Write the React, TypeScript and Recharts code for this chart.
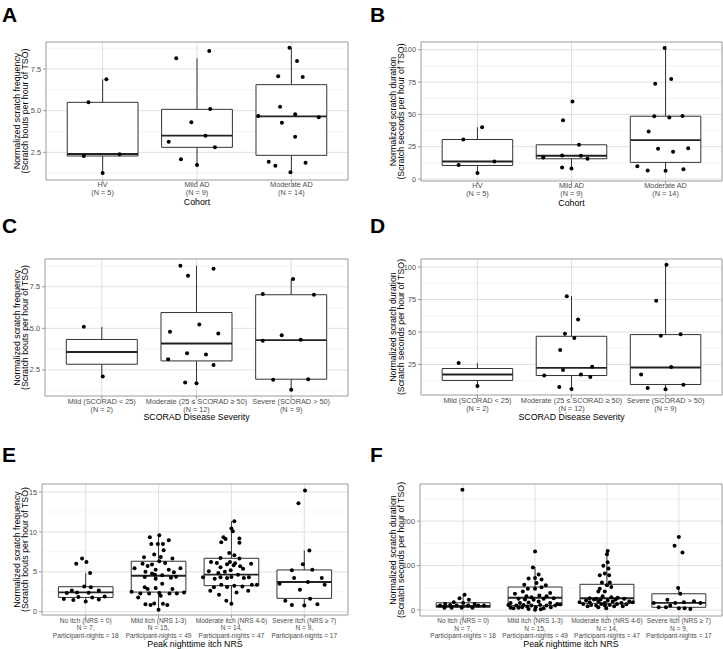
import { ComposedChart, XAxis, YAxis, CartesianGrid, Scatter, ReferenceArea, ReferenceLine, Label } from 'recharts';

const FONT = '"Liberation Sans", Arial, Helvetica, sans-serif';

// each point is [value, horizontal jitter in category units]
type Pt = [number, number];

// ---- A: scratch frequency by cohort
const aHV: Pt[] = [[6.88, 0.04], [5.5, -0.15], [2.28, -0.2], [2.38, 0.18], [1.26, 0]];
const aMild: Pt[] = [[8.14, -0.22], [8.58, 0.13], [5.1, 0.14], [4.3, -0.06], [3.5, 0.09], [3.14, -0.3], [2.8, 0.19], [2.08, -0.17], [1.74, 0]];
const aModerate: Pt[] = [[8.78, -0.02], [7.98, 0.06], [7.06, -0.14], [7.02, 0.12], [5.24, -0.12], [4.68, -0.35], [4.78, 0.04], [4.28, -0.1], [4.6, 0.29], [3.44, 0.04], [1.94, -0.24], [1.7, -0.17], [1.88, 0.15], [1.3, -0.01]];
const aLower = [1.26, 1.74, 1.3];
const aQ1 = [2.28, 2.8, 2.32];
const aMedian = [2.4, 3.5, 4.66];
const aQ3 = [5.5, 5.08, 6.56];
const aUpper = [6.88, 8.14, 8.78];

// ---- B: scratch duration by cohort
const bHV: Pt[] = [[40.1, 0.05], [30.6, -0.15], [10.8, -0.2], [13.6, 0.18], [4.6, 0]];
const bMild: Pt[] = [[45.5, -0.09], [59.9, 0.01], [26.5, 0.08], [18.3, -0.1], [18.0, 0.1], [16.7, -0.3], [15.7, 0.17], [9.0, -0.1], [8.2, 0]];
const bModerate: Pt[] = [[101.3, -0.01], [73.8, -0.11], [77.4, 0.06], [48.6, -0.12], [47.6, 0.04], [48.8, 0.18], [36.8, -0.18], [23.4, -0.08], [21.1, 0.08], [23.9, 0.24], [10.0, -0.3], [6.7, -0.19], [6.4, 0], [7.5, 0.19]];
const bLower = [4.6, 8.2, 6.4];
const bQ1 = [10.5, 15.7, 12.9];
const bMedian = [13.6, 18.0, 30.1];
const bQ3 = [30.6, 26.5, 48.6];
const bUpper = [40.1, 26.5, 101.3];

// ---- C: scratch frequency by SCORAD
const cMild: Pt[] = [[5.09, -0.19], [2.1, 0.01]];
const cModerate: Pt[] = [[8.77, -0.17], [8.16, -0.09], [8.58, 0.18], [5.23, 0.03], [4.79, -0.28], [4.69, 0.23], [3.5, -0.1], [3.42, 0.1], [3.14, -0.3], [2.8, 0.18], [1.74, -0.12], [1.7, 0]];
const cSevere: Pt[] = [[7.96, 0.02], [7.06, -0.3], [7.02, 0.24], [4.59, -0.1], [4.25, -0.3], [4.31, 0.1], [1.9, -0.19], [1.94, 0.18], [1.3, 0]];
const cLower = [2.1, 1.7, 1.3];
const cQ1 = [2.84, 3.04, 1.94];
const cMedian = [3.58, 4.09, 4.29];
const cQ3 = [4.33, 5.95, 7.02];
const cUpper = [5.09, 8.77, 7.96];

// ---- D: scratch duration by SCORAD
const dMild: Pt[] = [[26.2, -0.2], [8.4, 0]];
const dModerate: Pt[] = [[77.6, -0.05], [59.7, 0.07], [48.7, -0.07], [45.4, 0.03], [36.2, -0.12], [20.7, -0.09], [16.6, -0.29], [17.3, 0.1], [23.2, 0.22], [15.3, 0.2], [7.7, -0.13], [6.1, 0]];
const dSevere: Pt[] = [[101.8, 0.01], [74.0, -0.1], [47.2, -0.05], [48.2, 0.16], [17.3, -0.26], [23.0, 0.06], [6.9, -0.19], [5.9, 0], [9.4, 0.19]];
const dLower = [8.4, 6.1, 5.9];
const dQ1 = [12.7, 16.5, 9.6];
const dMedian = [17.3, 22.4, 22.7];
const dQ3 = [21.9, 46.7, 48.0];
const dUpper = [26.2, 77.6, 101.8];

// ---- E: scratch frequency by peak itch NRS
const eNone: Pt[] = [[6.66, -0.05], [6.03, -0.13], [6.24, 0.01], [4.86, 0.06], [3.18, -0.02], [3.06, 0.07], [2.68, -0.19], [2.35, -0.26], [2.43, -0.12], [2.68, 0.18], [2.39, 0.04], [1.59, -0.3], [1.47, -0.17], [1.84, -0.1], [1.3, 0], [1.8, 0.09], [1.55, 0.18], [1.93, 0.26]];
const eMild: Pt[] = [[9.59, 0.01], [9.34, -0.12], [8.5, -0.1], [8.5, -0.01], [8.5, 0.06], [8.97, 0.14], [7.71, 0.07], [7.16, -0.06], [6.83, -0.2], [6.87, 0.03], [6.66, 0.19], [6.33, 0.01], [6.03, -0.22], [5.91, -0.09], [6.12, 0.09], [5.45, -0.33], [5.74, -0.15], [5.45, 0.3], [5.28, -0.04], [5.28, 0.14], [4.94, 0.21], [5.03, -0.18], [4.78, -0.09], [4.57, 0.05], [4.27, 0.17], [4.15, -0.04], [4.36, -0.19], [4.4, 0.24], [4.65, -0.05], [3.52, 0.05], [3.06, -0.19], [2.85, -0.15], [2.97, -0.04], [2.85, 0.19], [2.51, -0.37], [2.3, -0.25], [2.3, -0.13], [2.35, 0.01], [2.3, 0.15], [2.3, 0.25], [2.43, 0.35], [1.8, -0.28], [2.01, 0.03], [0.96, -0.18], [0.84, -0.11], [1.05, -0.06], [1.0, 0.06], [0.84, 0.12], [0.25, 0]];
const eModerate: Pt[] = [[11.35, 0.04], [10.43, 0], [10.1, 0.02], [9.34, -0.11], [9.13, -0.08], [9.17, 0.11], [8.71, -0.14], [8.63, 0.11], [7.37, -0.03], [7.08, 0.04], [6.74, -0.15], [6.66, 0.11], [6.24, -0.28], [6.12, -0.2], [6.24, -0.02], [5.95, -0.06], [6.07, 0.05], [6.03, 0.27], [5.57, -0.15], [5.82, 0.03], [5.7, 0.12], [5.4, 0.16], [5.19, -0.01], [5.07, -0.31], [5.03, -0.09], [4.86, -0.18], [4.65, 0.09], [4.32, -0.39], [4.15, -0.23], [4.32, -0.15], [4.23, -0.06], [4.36, 0], [4.23, 0.17], [4.32, 0.24], [3.39, 0.35], [3.39, -0.14], [3.06, -0.24], [3.1, -0.06], [3.27, 0.04], [3.18, 0.15], [3.39, 0.28], [2.64, -0.29], [2.14, -0.17], [2.43, 0.07], [2.64, 0.23], [1.38, -0.07], [1.0, 0]];
const eSevere: Pt[] = [[15.2, 0.01], [13.6, -0.08], [7.67, 0.07], [5.95, -0.02], [5.19, -0.17], [5.28, 0.11], [4.23, -0.14], [4.23, 0.24], [3.52, -0.34], [3.73, 0.05], [3.39, 0.28], [2.76, -0.06], [1.63, 0.08], [1.38, -0.26], [0.84, -0.17], [0.8, 0], [0.96, 0.18]];
const eLower = [1.3, 0.25, 1.0, 0.8];
const eQ1 = [1.8, 2.47, 3.27, 1.68];
const eMedian = [2.43, 4.52, 4.65, 3.73];
const eQ3 = [3.14, 6.33, 6.7, 5.24];
const eUpper = [4.86, 9.59, 11.35, 7.67];

// ---- F: scratch duration by peak itch NRS
const fNone: Pt[] = [[270.7, -0.01], [34.2, 0.02], [26.6, -0.05], [22.8, 0.08], [17.5, -0.13], [13.7, -0.25], [16.0, 0], [13.7, 0.16], [9.9, -0.32], [11.4, -0.18], [9.9, -0.09], [9.9, 0.07], [9.9, 0.21], [9.9, 0.29], [5.3, -0.26], [5.3, -0.16], [5.3, -0.02], [5.3, 0.13]];
const fMild: Pt[] = [[131.6, 0], [95.8, -0.03], [79.8, 0.05], [72.2, 0], [68.4, 0.09], [70.7, -0.09], [57, -0.15], [60.8, 0.02], [55.5, 0.15], [47.9, -0.1], [47.9, 0], [51, 0.09], [41.8, -0.17], [38, 0.21], [36.5, -0.28], [31.2, -0.12], [28.9, -0.05], [32.7, 0.06], [31.2, 0.16], [25.1, -0.23], [23.6, -0.14], [22.8, -0.02], [25.1, 0.12], [26.6, 0.26], [16.0, -0.34], [16.0, -0.21], [16.7, -0.09], [19, 0.05], [16, 0.21], [13.7, 0.31], [11.4, -0.37], [9.9, -0.26], [11.4, -0.16], [9.9, -0.05], [11.4, 0.07], [9.9, 0.16], [9.9, 0.28], [12.9, 0.35], [5.3, -0.34], [5.3, -0.23], [6.1, -0.18], [7.6, -0.11], [6.1, 0.01], [3.8, 0.12], [6.1, 0.22], [0.5, 0], [3.8, -0.3], [2.3, -0.09], [1.5, 0.08]];
const fModerate: Pt[] = [[133, 0.01], [125.5, 0], [107.2, 0.01], [99.6, -0.05], [93.5, 0.02], [78.3, -0.1], [82.1, -0.03], [78.3, 0.03], [61.6, -0.07], [61.6, 0.04], [55.5, 0], [47.9, -0.1], [51.7, 0.06], [41.8, -0.12], [41.8, -0.03], [31.2, -0.06], [26.6, -0.24], [28.9, 0.06], [27.4, 0.15], [25.1, -0.15], [25.1, 0.24], [21.3, -0.29], [23.6, -0.18], [23.6, -0.09], [21.3, 0.01], [23.6, 0.12], [19, 0.31], [17.5, -0.38], [17.5, -0.24], [19, -0.12], [16, -0.03], [19, 0.08], [16, 0.2], [17.5, 0.36], [13.7, -0.33], [11.4, -0.22], [13.7, -0.08], [11.4, 0.04], [13.7, 0.14], [12.9, 0.27], [8.4, -0.27], [9.9, -0.15], [9.9, -0.03], [8.4, 0.1], [8.4, 0.22], [3.8, -0.01], [6.1, -0.12]];
const fSevere: Pt[] = [[164, 0], [144.5, -0.06], [129.3, 0.05], [49.4, -0.01], [36.5, 0.02], [16, -0.35], [22.8, -0.16], [16, -0.05], [17.5, 0.07], [19.8, 0.21], [16, 0.3], [6.1, -0.28], [6.1, -0.18], [9.9, -0.12], [3.8, 0], [3.8, 0.08], [2.3, 0.16]];
const fLower = [5.3, 0.5, 3.8, 2.3];
const fQ1 = [6.0, 9.9, 15, 6.1];
const fMedian = [9.0, 27.4, 26.6, 16];
const fQ3 = [16.3, 51.7, 57.8, 36.5];
const fUpper = [34.2, 97, 133, 49.4];

// ---- axis text
const cohortLabels = [['HV', '(N = 5)'], ['Mild AD', '(N = 9)'], ['Moderate AD', '(N = 14)']];
const scoradLabels = [['Mild (SCORAD < 25)', '(N = 2)'], ['Moderate (25 \u2264 SCORAD \u2265 50)', '(N = 12)'], ['Severe (SCORAD > 50)', '(N = 9)']];
const nrsLabels = [
  ['No itch (NRS = 0)', 'N = 7,', 'Participant-nights = 18'],
  ['Mild itch (NRS 1-3)', 'N = 15,', 'Participant-nights = 49'],
  ['Moderate itch (NRS 4-6)', 'N = 14,', 'Participant-nights = 47'],
  ['Severe itch (NRS \u2265 7)', 'N = 9,', 'Participant-nights = 17'],
];
const freqTitle = ['Normalized scratch frequency', '(Scratch bouts per hour of TSO)'];
const durTitle = ['Normalized scratch duration', '(Scratch seconds per hour of TSO)'];

const freqTicks = [2.5, 5.0, 7.5];
const freqMinor = [1.25, 3.75, 6.25, 8.75];
const durTicks = [0, 25, 50, 75, 100];
const durTicksD = [25, 50, 75, 100];
const durMinor = [12.5, 37.5, 62.5, 87.5];
const nrsFreqTicks = [0, 5, 10, 15];
const nrsFreqMinor = [2.5, 7.5, 12.5];
const nrsDurTicks = [0, 100, 200];
const nrsDurMinor = [50, 150, 250];

interface Geo { left: number; top: number; width: number; height: number; pl: number; pr: number; pt: number; pb: number; }

interface PanelProps {
  geo: Geo;
  groups: Pt[][];
  lower: number[]; q1: number[]; median: number[]; q3: number[]; upper: number[];
  yDomain: [number, number];
  yTicks: number[]; yMinor: number[]; fmt: (v: number) => string;
  xLabels: string[][]; xFont: number; xBase: number; xStep: number;
  xTitle: string; xTitleBase: number;
  yTitle: string[]; yTitleX: [number, number];
}

function Panel(p: PanelProps) {
  const g = p.geo;
  const n = p.groups.length;
  const pts = p.groups.flatMap((grp, i) => grp.map(([v, j]) => ({ x: i + 1 + j, y: v })));
  const cats = p.groups.map((_, i) => i + 1);
  const cy = (g.pt + g.pb) / 2 - g.top;
  const local = (v: number) => v - g.top;
  const xDomain: [number, number] = [0.4, n + 0.6];

  return (
    <div style={{ position: 'absolute', left: g.left, top: g.top }}>
      <ComposedChart
        width={g.width}
        height={g.height}
        margin={{ top: g.pt - g.top, right: g.left + g.width - g.pr, bottom: 0, left: 0 }}
      >
        <CartesianGrid horizontalValues={p.yMinor} vertical={false} stroke="#ececec" strokeWidth={0.6} />
        <CartesianGrid horizontalValues={p.yTicks} verticalValues={cats} stroke="#dcdcdc" strokeWidth={0.9} />
        <XAxis
          type="number"
          dataKey="x"
          domain={xDomain}
          ticks={cats}
          allowDataOverflow
          height={g.top + g.height - g.pb}
          axisLine={false}
          tickSize={3}
          tickLine={{ stroke: '#9a9a9a' }}
          tick={(t: any) => {
            const idx = Math.round(t.payload.value) - 1;
            return (
              <text x={t.x} y={local(p.xBase)} textAnchor="middle" fontSize={p.xFont} fill="#4d4d4d" fontFamily={FONT}>
                {p.xLabels[idx].map((l, k) => (
                  <tspan key={k} x={t.x} y={local(p.xBase) + k * p.xStep}>{l}</tspan>
                ))}
              </text>
            );
          }}
        >
          <Label
            content={() => (
              <text x={(g.pl + g.pr) / 2 - g.left} y={local(p.xTitleBase)} textAnchor="middle" fontSize={8.8} fill="#000" fontFamily={FONT}>
                {p.xTitle}
              </text>
            )}
          />
        </XAxis>
        <YAxis
          type="number"
          dataKey="y"
          domain={p.yDomain}
          ticks={p.yTicks}
          allowDataOverflow
          width={g.pl - g.left}
          axisLine={false}
          tickSize={3}
          tickLine={{ stroke: '#9a9a9a' }}
          tickFormatter={p.fmt}
          tick={{ fontSize: 7.3, fill: '#4d4d4d', fontFamily: FONT }}
        >
          <Label
            content={() => (
              <g fontSize={8.8} fill="#000" fontFamily={FONT} textAnchor="middle">
                {p.yTitle.map((t, k) => (
                  <text key={k} x={p.yTitleX[k]} y={cy} transform={`rotate(-90 ${p.yTitleX[k]} ${cy})`}>{t}</text>
                ))}
              </g>
            )}
          />
        </YAxis>
        {cats.map((c, i) => (
          <ReferenceArea key={`box${i}`} x1={c - 0.375} x2={c + 0.375} y1={p.q1[i]} y2={p.q3[i]} fill="#fff" fillOpacity={1} stroke="#333" strokeWidth={1} />
        ))}
        {cats.map((c, i) => (
          <ReferenceLine key={`wu${i}`} segment={[{ x: c, y: p.q3[i] }, { x: c, y: p.upper[i] }]} stroke="#333" strokeWidth={1} />
        ))}
        {cats.map((c, i) => (
          <ReferenceLine key={`wl${i}`} segment={[{ x: c, y: p.lower[i] }, { x: c, y: p.q1[i] }]} stroke="#333" strokeWidth={1} />
        ))}
        {cats.map((c, i) => (
          <ReferenceLine key={`md${i}`} segment={[{ x: c - 0.375, y: p.median[i] }, { x: c + 0.375, y: p.median[i] }]} stroke="#222" strokeWidth={1.9} />
        ))}
        <Scatter
          data={pts}
          isAnimationActive={false}
          shape={(s: any) => <circle cx={s.cx} cy={s.cy} r={2} fill="#000" />}
        />
        <ReferenceArea
          x1={xDomain[0]} x2={xDomain[1]} y1={p.yDomain[0]} y2={p.yDomain[1]}
          fill="none" fillOpacity={0} stroke="#9a9a9a" strokeWidth={1} ifOverflow="visible"
        />
      </ComposedChart>
    </div>
  );
}

const f1 = (v: number) => v.toFixed(1);
const f0 = (v: number) => String(v);

export default function App() {
  return (
    <div style={{ position: 'absolute', left: 0, top: 0, width: 723, height: 649, background: '#fff', fontFamily: FONT }}>
      <Panel
        geo={{ left: 0, top: 30, width: 352, height: 180, pl: 46, pr: 348, pt: 42, pb: 180 }}
        groups={[aHV, aMild, aModerate]}
        lower={aLower} q1={aQ1} median={aMedian} q3={aQ3} upper={aUpper}
        yDomain={[0.84, 9.12]} yTicks={freqTicks} yMinor={freqMinor} fmt={f1}
        xLabels={cohortLabels} xFont={7.3} xBase={187} xStep={8}
        xTitle="Cohort" xTitleBase={205}
        yTitle={freqTitle} yTitleX={[19.8, 28.3]}
      />
      <Panel
        geo={{ left: 362, top: 30, width: 361, height: 180, pl: 421, pr: 722, pt: 42, pb: 181 }}
        groups={[bHV, bMild, bModerate]}
        lower={bLower} q1={bQ1} median={bMedian} q3={bQ3} upper={bUpper}
        yDomain={[-1.5, 106]} yTicks={durTicks} yMinor={durMinor} fmt={f0}
        xLabels={cohortLabels} xFont={7.3} xBase={188} xStep={8}
        xTitle="Cohort" xTitleBase={206}
        yTitle={durTitle} yTitleX={[33.5, 41.7]}
      />
      <Panel
        geo={{ left: 0, top: 245, width: 352, height: 180, pl: 45, pr: 348, pt: 259, pb: 396 }}
        groups={[cMild, cModerate, cSevere]}
        lower={cLower} q1={cQ1} median={cMedian} q3={cQ3} upper={cUpper}
        yDomain={[0.93, 9.17]} yTicks={freqTicks} yMinor={freqMinor} fmt={f1}
        xLabels={scoradLabels} xFont={7.3} xBase={403.5} xStep={8}
        xTitle="SCORAD Disease Severity" xTitleBase={420}
        yTitle={freqTitle} yTitleX={[19.8, 28.3]}
      />
      <Panel
        geo={{ left: 362, top: 245, width: 361, height: 180, pl: 421, pr: 722, pt: 259, pb: 395 }}
        groups={[dMild, dModerate, dSevere]}
        lower={dLower} q1={dQ1} median={dMedian} q3={dQ3} upper={dUpper}
        yDomain={[1.5, 106.2]} yTicks={durTicksD} yMinor={durMinor} fmt={f0}
        xLabels={scoradLabels} xFont={7.3} xBase={403} xStep={8}
        xTitle="SCORAD Disease Severity" xTitleBase={420}
        yTitle={durTitle} yTitleX={[33.5, 41.7]}
      />
      <Panel
        geo={{ left: 0, top: 470, width: 352, height: 179, pl: 42, pr: 348, pt: 484, pb: 615 }}
        groups={[eNone, eMild, eModerate, eSevere]}
        lower={eLower} q1={eQ1} median={eMedian} q3={eQ3} upper={eUpper}
        yDomain={[-0.4, 16.0]} yTicks={nrsFreqTicks} yMinor={nrsFreqMinor} fmt={f0}
        xLabels={nrsLabels} xFont={6.6} xBase={622.5} xStep={7.7}
        xTitle="Peak nighttime itch NRS" xTitleBase={646.5}
        yTitle={freqTitle} yTitleX={[19.5, 28]}
      />
      <Panel
        geo={{ left: 362, top: 470, width: 361, height: 179, pl: 420, pr: 722, pt: 484, pb: 616 }}
        groups={[fNone, fMild, fModerate, fSevere]}
        lower={fLower} q1={fQ1} median={fMedian} q3={fQ3} upper={fUpper}
        yDomain={[-13.5, 283.5]} yTicks={nrsDurTicks} yMinor={nrsDurMinor} fmt={f0}
        xLabels={nrsLabels} xFont={6.6} xBase={623} xStep={7.7}
        xTitle="Peak nighttime itch NRS" xTitleBase={646.5}
        yTitle={durTitle} yTitleX={[33.5, 41.7]}
      />
      <svg width={723} height={649} style={{ position: 'absolute', left: 0, top: 0, pointerEvents: 'none' }}>
        <g fontFamily={FONT} fontWeight="bold" fontSize={21} fill="#000">
          <text x={2} y={22}>A</text>
          <text x={370} y={22}>B</text>
          <text x={2} y={233}>C</text>
          <text x={370} y={233}>D</text>
          <text x={2} y={461.5}>E</text>
          <text x={370} y={461.5}>F</text>
        </g>
      </svg>
    </div>
  );
}
